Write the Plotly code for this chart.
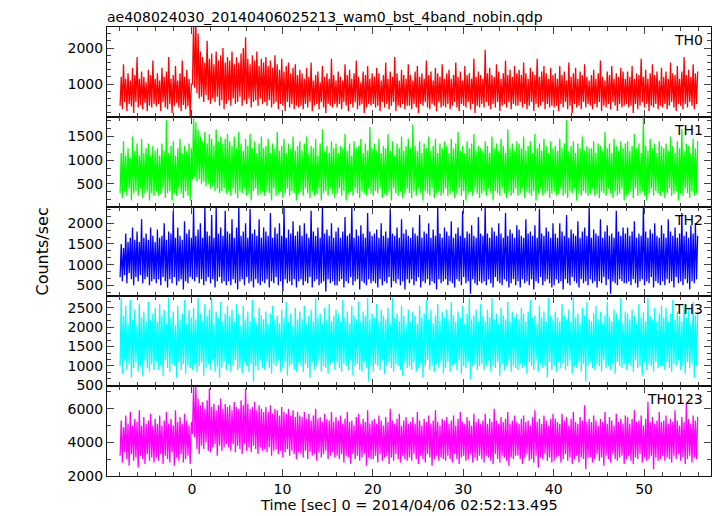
import numpy as np
import plotly.graph_objects as go
from plotly.subplots import make_subplots

# ---- data: per 0.25 s bin, the high and low excursion of each light curve (counts/sec) ----
t_start = -7.95
bin_width = 0.25

th0_hi = [1200,1550,1150,1300,1100,1450,1250,1750,1150,1350,1200,1050,1400,1250,1650,1150,
          1300,1100,1450,1200,1350,1750,1150,1250,1500,1100,1300,1650,1200,1400,1150,1000,
          2700,2700,2400,1900,1750,1600,2200,1700,1850,1550,1900,1650,1800,2000,1600,1750,
          1650,1900,1550,1750,1600,1850,2000,2300,1700,1550,1800,1650,1900,1500,1700,1600,
          1750,1500,1650,1450,1800,1550,1400,1700,1350,1500,1600,1300,1450,1550,1250,1400,
          1300,1150,1450,1200,1600,1100,1250,1350,1050,1500,1200,1300,1150,1700,1250,1100,
          1350,1200,1100,1550,1250,1400,1150,1300,1650,1200,1050,1350,1250,1500,1150,1300,
          1200,1450,1300,1100,1250,1600,1150,1350,1200,1750,1300,1100,1400,1250,1150,1550,
          1250,1100,1350,1500,1200,1300,1150,1650,1250,1350,1100,1450,1300,1200,1550,1150,
          1300,1400,1150,1250,1600,1200,1350,1100,1500,1250,1300,1150,1700,1200,1350,1250,
          1150,1950,1300,1450,1250,1200,1550,1350,1150,1300,1650,1250,1400,1200,1500,1300,
          1400,1250,1600,1300,1150,1450,1350,1250,1700,1200,1350,1500,1300,1150,1450,1250,
          1300,1150,1500,1250,1350,1100,1600,1200,1300,1450,1150,1350,1250,1550,1200,1100,
          1250,1400,1150,1300,1650,1200,1100,1350,1250,1500,1150,1300,1200,1450,1350,1150,
          1350,1200,1500,1150,1300,1250,1700,1200,1400,1150,1300,1550,1250,1350,1100,1450,
          1200,1350,1150,1600,1300,1250,1500,1150,1350,1750,1250,1400,1200,1550,1300,1350]
th0_lo = [400,300,500,250,450,380,200,500,350,420,300,480,250,400,350,450,
          380,450,250,500,350,300,450,200,400,480,350,250,420,300,380,100,
          1000,900,750,600,650,500,700,550,450,600,500,650,400,550,300,450,
          550,400,600,450,500,650,400,550,450,600,350,500,550,400,600,450,
          500,400,550,350,450,500,300,450,400,250,500,350,450,300,400,350,
          400,300,450,350,500,250,400,450,300,500,350,200,450,400,350,450,
          350,450,300,500,400,250,450,350,500,300,400,450,200,350,450,400,
          450,350,400,250,500,350,450,300,400,500,250,400,350,450,300,400,
          400,300,450,350,200,450,400,500,350,300,450,400,250,500,350,400,
          350,450,300,400,500,350,250,450,400,350,500,300,450,200,400,350,
          450,350,500,400,300,450,350,500,250,400,450,350,500,300,450,400,
          400,500,350,450,300,400,500,250,450,350,400,500,300,450,350,400,
          350,400,250,450,350,500,300,400,200,450,350,400,300,500,350,450,
          400,300,450,350,500,250,400,350,450,300,500,400,250,450,350,400,
          450,350,400,200,450,300,400,500,350,450,250,400,350,450,300,400,
          350,450,300,400,500,350,250,450,400,300,450,350,500,400,300,450]

th1_hi = [1150,1400,1100,1250,1050,1500,1200,1350,1100,1450,1150,1250,1350,1100,1300,1200,
          1250,1100,1350,1200,1850,1150,1300,1400,1100,1250,1450,1150,1300,1200,1350,1250,
          1900,1800,1650,1500,1400,1600,1350,1550,1450,1300,1650,1400,1500,1350,1450,1550,
          1400,1300,1500,1250,1600,1350,1200,1450,1300,1550,1250,1400,1150,1350,1500,1250,
          1300,1450,1150,1350,1250,1600,1200,1300,1450,1150,1350,1250,1500,1200,1300,1400,
          1200,1350,1500,1150,1300,1250,1450,1100,1350,1650,1200,1300,1150,1400,1250,1350,
          1150,1300,1250,1550,1200,1350,1100,1400,1250,1300,1450,1150,1350,1200,1700,1250,
          1350,1200,1450,1150,1300,1250,1550,1200,1400,1100,1350,1250,1500,1200,1300,1450,
          1250,1750,1300,1200,1400,1150,1350,1250,1500,1200,1300,1450,1150,1350,1250,1400,
          1300,1150,1450,1250,1350,1600,1200,1300,1150,1400,1250,1350,1550,1200,1300,1250,
          1200,1400,1300,1150,1500,1250,1350,1200,1450,1300,1150,1650,1250,1350,1200,1400,
          1350,1250,1500,1200,1300,1400,1150,1550,1250,1350,1200,1450,1300,1150,1400,1250,
          1300,1200,1450,1250,1350,1850,1200,1300,1400,1150,1350,1250,1500,1200,1300,1250,
          1250,1400,1150,1350,1300,1200,1600,1250,1350,1150,1450,1300,1200,1400,1250,1350,
          1400,1200,1300,1550,1250,1350,1150,1900,1300,1200,1450,1250,1350,1150,1400,1300,
          1250,1350,1200,1500,1300,1150,1400,1250,1650,1200,1350,1300,1150,1450,1250,1400]
th1_lo = [300,200,350,250,400,150,300,350,250,400,200,300,350,150,300,250,
          350,250,300,400,200,300,350,150,300,250,400,300,200,350,250,150,
          600,650,550,600,500,550,450,500,400,450,350,400,300,350,400,300,
          350,250,400,300,200,350,300,400,250,300,150,350,400,250,300,350,
          250,350,300,150,400,250,300,350,200,300,400,250,350,300,150,300,
          350,250,400,300,200,350,250,300,400,150,300,350,250,400,300,200,
          300,400,250,350,150,300,350,250,400,300,200,350,300,250,400,300,
          250,350,300,400,200,300,250,350,150,400,300,250,350,200,300,400,
          300,200,350,250,400,300,150,350,300,250,400,200,300,350,250,300,
          400,250,300,350,200,300,400,250,350,150,300,350,250,400,300,200,
          300,350,250,400,300,150,350,300,250,400,300,200,350,250,300,400,
          250,300,400,200,350,300,250,350,150,300,400,250,300,350,200,300,
          350,250,300,400,250,300,200,350,300,400,150,300,250,350,300,250,
          300,400,250,300,200,350,300,250,400,300,200,350,250,300,400,150,
          250,300,350,200,400,250,300,350,250,150,300,400,250,350,300,250,
          350,200,300,400,250,300,350,150,300,250,400,300,200,350,250,300]

th2_hi = [1500,1400,1750,1550,1650,1900,1600,1800,1550,2100,1650,1750,1600,1900,1700,1550,
          1850,1650,1700,2000,1600,1800,1750,2300,1650,1900,1700,1600,2050,1750,1850,1650,
          2400,1700,1850,2000,1650,2400,1800,1700,2200,1650,2400,1750,1900,1700,2300,1800,
          1750,2100,1650,1900,2400,1700,1800,2000,1650,2350,1750,1850,1700,2100,1650,1900,
          1800,1700,2250,1650,1900,1750,2000,1700,2400,1650,1850,1750,2050,1700,1800,1950,
          1700,2000,1750,1650,2300,1800,1700,1900,1650,2400,1750,1850,1700,2000,1650,1800,
          1900,1650,1800,2150,1700,1750,2400,1650,1850,1700,1950,1750,1650,2250,1800,1700,
          1750,1850,1650,2000,1700,1800,1650,2350,1750,1700,1900,1650,2100,1750,1850,1700,
          1650,1900,1750,1700,2200,1650,1800,1750,2000,1650,1850,1700,2400,1750,1650,1900,
          1800,1700,2050,1650,1750,1900,1700,2300,1650,1800,1750,1950,1700,1650,2150,1750,
          1700,2400,1750,1650,1900,1800,1700,2000,1750,1650,2250,1700,1850,1750,1650,1950,
          1850,1700,1650,2100,1750,1800,1700,1950,1650,2350,1750,1700,1900,1800,1650,2000,
          1750,1650,2000,1800,1700,2200,1650,1850,1750,1700,2050,1650,1800,1900,1700,2400,
          1650,1850,1750,1700,2100,1650,1800,1950,1700,1750,1650,2300,1800,1700,1900,1750,
          1900,1700,1800,2050,1650,1750,1700,2400,1800,1650,1850,1750,2000,1700,1650,1950,
          1750,1650,2100,1800,1700,1900,1650,1750,2250,1700,1800,1650,1950,1750,2000,1700]
th2_lo = [700,600,750,550,800,650,500,700,600,750,550,650,700,500,600,650,
          550,650,500,700,600,450,650,550,700,500,600,650,400,600,550,700,
          650,600,700,550,650,500,600,700,550,650,450,600,700,550,600,500,
          600,500,650,550,400,600,650,500,700,550,600,450,650,550,500,600,
          550,650,450,600,550,700,500,600,350,650,550,600,500,650,450,600,
          650,500,600,550,700,450,600,650,500,550,600,350,650,550,600,500,
          500,600,650,450,600,550,700,500,600,650,400,600,550,500,650,550,
          600,550,450,650,500,600,550,700,450,600,550,650,500,600,400,650,
          550,650,500,600,700,450,600,550,650,500,600,550,400,650,550,600,
          650,500,600,550,450,650,600,500,700,550,600,300,650,550,500,600,
          550,600,500,650,550,450,700,600,550,500,650,600,450,550,650,500,
          600,450,650,550,600,500,650,400,600,550,700,500,600,650,550,450,
          500,650,550,600,400,650,550,500,700,600,550,450,650,550,600,500,
          650,550,600,450,600,550,700,500,650,300,600,550,500,650,600,550,
          550,600,500,650,550,450,600,650,500,600,550,700,450,600,550,500,
          600,500,650,550,600,450,700,550,600,500,650,550,400,600,550,650]

th3_hi = [2750,2300,2550,2100,2700,2200,2450,2050,2600,2250,2400,2150,2650,2200,2350,2500,
          2150,2600,2300,2450,2100,2750,2250,2400,2050,2550,2200,2350,2700,2100,2450,2250,
          2500,2200,2750,2350,2150,2600,2300,2450,2750,2100,2400,2250,2650,2150,2350,2550,
          2300,2450,2150,2600,2350,2050,2550,2200,2400,2150,2700,2250,2100,2500,2300,2200,
          2400,2100,2350,2550,2200,2300,2100,2450,2250,2650,2150,2350,2050,2500,2200,2400,
          2200,2550,2100,2300,2450,2150,2750,2250,2350,2100,2500,2200,2600,2150,2300,2450,
          2350,2150,2700,2250,2400,2100,2550,2300,2200,2650,2150,2400,2300,2750,2200,2350,
          2250,2600,2150,2450,2300,2200,2500,2100,2750,2250,2350,2150,2550,2300,2100,2450,
          2150,2400,2300,2100,2550,2250,2350,2700,2200,2450,2100,2300,2600,2150,2400,2250,
          2450,2200,2650,2300,2150,2400,2250,2550,2100,2350,2750,2200,2300,2450,2150,2600,
          2300,2150,2450,2250,2750,2200,2350,2100,2500,2300,2200,2650,2150,2400,2250,2350,
          2200,2500,2350,2150,2400,2700,2250,2300,2100,2550,2250,2400,2150,2750,2300,2200,
          2400,2250,2150,2600,2300,2200,2450,2150,2750,2250,2350,2100,2500,2300,2650,2200,
          2150,2350,2550,2200,2400,2100,2300,2650,2250,2150,2450,2350,2200,2750,2100,2400,
          2350,2200,2450,2300,2100,2600,2250,2400,2150,2750,2300,2200,2500,2150,2350,2550,
          2250,2500,2150,2350,2700,2200,2400,2300,2150,2550,2250,2450,2100,2650,2300,2400]
th3_lo = [1000,800,1150,900,1050,700,950,1100,850,1000,750,1150,950,850,1050,900,
          1100,900,1000,750,1150,950,850,1050,1000,700,1100,900,1050,800,1000,950,
          900,1050,850,1000,1100,750,950,1050,900,1150,850,1000,700,950,1100,900,
          1050,850,1000,1150,900,950,800,1100,1000,850,1050,600,1000,900,1150,950,
          900,1100,950,800,1050,1000,1150,850,950,1100,750,1000,1050,900,850,1100,
          1000,850,1050,950,700,1100,900,1000,1150,850,1000,950,800,1050,1100,900,
          1100,950,850,1050,1000,900,1150,750,1000,1050,900,850,1100,950,600,1000,
          850,1050,1000,900,1150,800,1000,1100,950,850,1050,1000,900,750,1100,950,
          1000,900,1100,850,950,1050,700,1000,1150,900,1000,850,1050,950,1100,800,
          950,1100,850,1000,1050,900,1150,800,1000,950,1100,650,1000,1050,900,1000,
          1050,900,1000,1150,850,1000,950,1100,750,1050,900,1000,1150,850,1000,950,
          900,1050,950,1000,800,1100,1000,900,1150,850,1050,950,1000,700,1100,900,
          1000,850,1100,950,1050,900,1000,1150,800,1000,950,1100,850,1050,600,1000,
          1100,950,900,1050,1000,850,1150,950,1000,900,1050,800,1100,1000,950,1050,
          900,1050,1000,850,1150,950,1000,750,1100,900,1050,1000,850,1100,950,1000,
          1000,900,1100,950,850,1050,1000,1150,900,1000,800,1100,950,1050,700,1000]

th0123_hi = [5300,4900,5600,5100,5800,5000,5400,5200,5900,5000,5500,5100,5300,5700,5000,5400,
             5100,5600,5000,5300,5800,5100,5400,5000,5900,5200,5500,5100,5700,5300,5000,5200,
             7300,7300,6600,6200,6400,6000,6500,7200,6100,6300,5900,6200,6600,6000,6300,6100,
             6200,5900,6400,6100,6000,6500,6200,7200,6300,6000,6100,6400,5900,6200,6000,5800,
             6100,5800,6200,5700,6000,5900,5600,6100,5800,5700,6000,5600,5900,5500,5800,5600,
             5500,5800,5400,5700,5300,5600,6000,5400,5500,5200,5700,5400,5300,5800,5200,5500,
             5300,5600,5100,5400,5800,5200,5300,5000,5500,5700,5100,5400,5200,5900,5100,5300,
             5400,5100,5600,5300,5000,5500,5200,6000,5300,5100,5400,5700,5000,5300,5500,5100,
             5200,5500,5100,5800,5300,5000,5400,5200,5600,5100,5300,5900,5200,5000,5400,5300,
             5500,5100,5300,5600,5000,5400,5800,5200,5100,5500,5300,5000,5700,5200,5400,5100,
             5300,5700,5100,5400,5200,6000,5300,5100,5500,5200,5400,5800,5100,5300,5600,5200,
             5100,5400,5600,5200,5300,5000,5500,5900,5200,5400,5100,5600,5300,5000,5400,5700,
             5400,5200,5100,5700,5300,5500,5000,5400,5800,5200,5100,5500,5300,6200,5200,5400,
             5200,5600,5300,5000,5400,5200,5800,5100,5500,5300,5000,5700,5200,5400,5100,5600,
             5500,5100,5400,5900,5200,5300,5600,5000,5400,6400,5200,5500,5100,5300,5800,5200,
             5300,5600,5100,5400,5200,5900,5300,5000,5500,5200,6300,5400,5100,5600,5300,5500]
th0123_lo = [3200,2800,3400,3000,2600,3300,2900,3100,2500,3200,3000,2700,3300,2900,3100,2800,
             3100,2900,3300,2700,3200,3000,2800,3400,2600,3100,2900,3300,2800,3000,3200,2700,
             4500,4300,3600,3300,3800,3600,4000,3500,3400,3700,3900,3200,3800,3500,3700,3900,
             3700,3500,3900,3400,3800,3600,3300,3900,3500,3700,3400,3800,3600,3300,3700,3500,
             3600,3400,3700,3200,3500,3600,3300,3500,3100,3400,3600,3200,3500,3300,3000,3400,
             3300,3100,3500,3000,3400,3200,3300,2900,3400,3100,3300,3500,3000,3200,3400,3100,
             3200,3000,3300,2800,3200,3100,2700,3300,3000,3200,2900,3100,3300,2600,3100,3000,
             3000,3200,2800,3300,2900,3100,3200,2700,3100,2900,3300,3000,2800,3200,3000,2900,
             3100,2900,3300,3000,2700,3200,3000,2800,3300,3100,2600,3000,3200,2900,3100,3000,
             2900,3200,3000,2800,3300,3000,2700,3100,3200,2900,3000,3300,2800,3100,2900,3200,
             3000,2800,3200,3100,2900,2700,3300,3000,2800,3200,3100,2900,2600,3100,3000,3200,
             3200,3000,2700,3100,3300,2900,3000,2800,3200,2500,3100,3000,3300,2900,3100,2800,
             2900,3100,3200,2800,3000,3300,2900,3100,2700,3000,3200,2800,3100,3000,2400,3100,
             3100,2800,3000,3300,2900,3100,2600,3200,3000,2800,3300,3000,2900,3100,3200,2700,
             3000,3200,2900,2700,3100,3000,3300,2800,3100,2900,3000,3200,2400,3100,2900,3000,
             3200,2900,3100,3000,2800,3200,3000,3300,2900,3100,2700,3000,3200,2800,3100,3000]

labels = ["TH0", "TH1", "TH2", "TH3", "TH0123"]
colors = ["#ff0000", "#00ff00", "#0000ff", "#00ffff", "#ff00ff"]
y_ranges = [[92, 2583], [20, 1915], [233, 2403], [480, 2790], [1990, 7340]]
y_dtick = [1000, 500, 500, 500, 2000]
y_minor = [200, 500 / 3, 500 / 3, 500 / 3, 1000]

series = [(th0_lo, th0_hi), (th1_lo, th1_hi), (th2_lo, th2_hi), (th3_lo, th3_hi), (th0123_lo, th0123_hi)]

title_text = "ae408024030_20140406025213_wam0_bst_4band_nobin.qdp"
x_title = "Time [sec] 0 = 2014/04/06 02:52:13.495"
y_title = "Counts/sec"

FONT = "DejaVu Sans"
AXIS_STYLE = dict(ticks="inside", ticklen=7, tickcolor="#444444", tickwidth=1,
                  mirror="allticks", showline=True, linecolor="#111111", linewidth=1,
                  showgrid=False, zeroline=False,
                  tickfont=dict(family=FONT, size=14, color="#000000"))

fig = make_subplots(rows=5, cols=1, shared_xaxes=True, vertical_spacing=0)

for i, (lo, hi) in enumerate(series):
    n = min(len(lo), len(hi))
    tb = t_start + bin_width * np.arange(n)
    xs = np.column_stack([tb, tb + bin_width / 2]).ravel()
    ys = np.column_stack([np.array(lo[:n]), np.array(hi[:n])]).ravel()
    fig.add_trace(go.Scatter(x=xs, y=ys, mode="lines",
                             line=dict(color=colors[i], width=1.3, simplify=False),
                             showlegend=False, hoverinfo="skip"),
                  row=i + 1, col=1)
    fig.update_yaxes(range=y_ranges[i], dtick=y_dtick[i], tick0=0,
                     minor=dict(ticks="inside", ticklen=4, dtick=y_minor[i], tick0=0,
                                tickcolor="#444444", showgrid=False),
                     **AXIS_STYLE, row=i + 1, col=1)
    fig.update_xaxes(range=[-9.4, 57.4], dtick=10, tick0=0,
                     minor=dict(ticks="inside", ticklen=4, dtick=2, tick0=0,
                                tickcolor="#444444", showgrid=False),
                     **AXIS_STYLE, row=i + 1, col=1)
    yref = "y domain" if i == 0 else f"y{i+1} domain"
    fig.add_annotation(text=labels[i], xref="paper", yref=yref, x=1, y=1,
                       xanchor="right", yanchor="top", xshift=-6, yshift=-3,
                       showarrow=False, font=dict(family=FONT, size=14, color="#000000"))

fig.add_annotation(text=title_text, xref="paper", yref="paper", x=0, y=1,
                   xanchor="left", yanchor="bottom", xshift=-2, yshift=0, showarrow=False,
                   font=dict(family=FONT, size=14, color="#000000"))
fig.add_annotation(text=x_title, xref="paper", yref="paper", x=0.5, y=0,
                   xanchor="center", yanchor="top", yshift=-19, showarrow=False,
                   font=dict(family=FONT, size=14.5, color="#000000"))
fig.add_annotation(text=y_title, xref="paper", yref="paper", x=0, y=0.5,
                   xanchor="center", yanchor="middle", xshift=-65, textangle=-90,
                   showarrow=False, font=dict(family=FONT, size=16, color="#000000"))

fig.update_layout(width=717, height=516, margin=dict(l=107, r=6, t=27, b=40),
                  paper_bgcolor="white", plot_bgcolor="white")

fig.write_html("out.html", config={"displayModeBar": False},
               post_script="document.body.style.margin='0';")
